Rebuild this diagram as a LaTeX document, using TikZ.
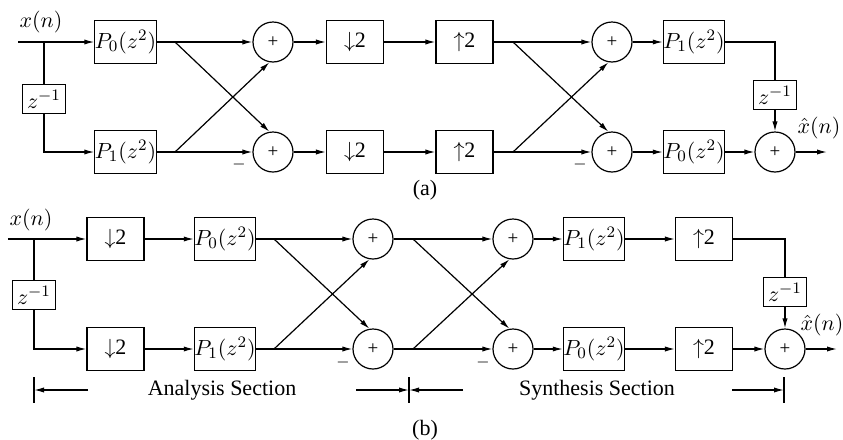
\documentclass[tikz,border=0pt]{standalone}
\usepackage{fontspec}
\setmainfont{Liberation Serif}
\usetikzlibrary{arrows.meta,calc}
\tikzset{
  >={Latex[length=5pt,width=2.6pt]},
  blk/.style={draw,line width=0.6pt,minimum width=28.5pt,minimum height=21.5pt,
              inner sep=0pt},
  dly/.style={draw,line width=0.6pt,minimum width=21.5pt,minimum height=14.5pt,
              inner sep=0pt},
  adder/.style={draw,circle,line width=0.6pt,minimum size=20pt,inner sep=0pt,
                font=\fontsize{9.5}{10}\selectfont},
  sig/.style={->,line width=0.6pt},
  wire/.style={-,line width=0.6pt},
  neg/.style={inner sep=0pt,font=\fontsize{8}{9}\selectfont},
  io/.style={inner sep=0pt},
}

\begin{document}
\begin{tikzpicture}[x=0.5pt,y=-0.5pt,
    every node/.append style={font=\fontsize{11}{13}\selectfont}]
  \useasboundingbox (0,0) rectangle (843,440);
  % (a) polyphase analysis then synthesis
  \coordinate (ina) at (18,42);
  \coordinate (ja) at (44,42);
  \coordinate (c1a) at (175,42);
  \coordinate (c2a) at (175,152);
  \coordinate (c3a) at (513,42);
  \coordinate (c4a) at (513,152);
  \coordinate (outa) at (827,152);
  \node[dly] (za) at (44,99) {$z^{-1}$};
  \node[blk] (p0a) at (125.5,42) {$P_0(z^2)$};
  \node[blk] (p1a) at (125.5,152) {$P_1(z^2)$};
  \node[adder] (s1a) at (273,42) {+};
  \node[adder] (s2a) at (273,152) {+};
  \node[blk] (d1a) at (355,42) {$\downarrow$2};
  \node[blk] (d2a) at (355,152) {$\downarrow$2};
  \node[blk] (u1a) at (464.5,42) {$\uparrow$2};
  \node[blk] (u2a) at (464.5,152) {$\uparrow$2};
  \node[adder] (s3a) at (612,42) {+};
  \node[adder] (s4a) at (612,152) {+};
  \node[blk] (q1a) at (694,42) {$P_1(z^2)$};
  \node[blk] (q0a) at (694,152) {$P_0(z^2)$};
  \node[dly] (zoa) at (775,95) {$z^{-1}$};
  \node[adder] (oa) at (775,152) {+};
  \node[io] (xa) at (41,22) {$x(n)$};
  \node[io] (ya) at (819,128) {$\hat{x}(n)$};
  \node[neg] (m1a) at (239,164) {$-$};
  \node[neg] (m2a) at (580,164) {$-$};
  \node (capa) at (425,190) {(a)};

  \draw[sig] (ina) -- (p0a);
  \draw[wire] (ja) -- (za);
  \draw[sig] (za) |- (p1a);
  \draw[sig] (p0a) -- (s1a);
  \draw[sig] (p1a) -- (s2a);
  \draw[sig] (c1a) -- (s2a.100);
  \draw[sig] (c2a) -- (s1a.260);
  \draw[sig] (s1a) -- (d1a);
  \draw[sig] (s2a) -- (d2a);
  \draw[sig] (d1a) -- (u1a);
  \draw[sig] (d2a) -- (u2a);
  \draw[sig] (u1a) -- (s3a);
  \draw[sig] (u2a) -- (s4a);
  \draw[sig] (c3a) -- (s4a.100);
  \draw[sig] (c4a) -- (s3a.260);
  \draw[sig] (s3a) -- (q1a);
  \draw[sig] (s4a) -- (q0a);
  \draw[wire] (q1a.east) -| (zoa);
  \draw[sig] (zoa) -- (oa);
  \draw[sig] (q0a) -- (oa);
  \draw[sig] (oa) -- (outa);

  % (b) decimators moved to the front
  \coordinate (inb) at (8,239);
  \coordinate (jb) at (34,239);
  \coordinate (c1b) at (274,239);
  \coordinate (c2b) at (274,349);
  \coordinate (c3b) at (413,239);
  \coordinate (c4b) at (413,349);
  \coordinate (outb) at (837,349);
  \node[dly] (zb) at (34,295) {$z^{-1}$};
  \node[blk] (d1b) at (115.5,239) {$\downarrow$2};
  \node[blk] (d2b) at (115.5,349) {$\downarrow$2};
  \node[blk] (p0b) at (225,239) {$P_0(z^2)$};
  \node[blk] (p1b) at (225,349) {$P_1(z^2)$};
  \node[adder] (s1b) at (373,239) {+};
  \node[adder] (s2b) at (373,349) {+};
  \node[adder] (s3b) at (513,239) {+};
  \node[adder] (s4b) at (513,349) {+};
  \node[blk] (q1b) at (594,239) {$P_1(z^2)$};
  \node[blk] (q0b) at (594,349) {$P_0(z^2)$};
  \node[blk] (u1b) at (704,239) {$\uparrow$2};
  \node[blk] (u2b) at (704,349) {$\uparrow$2};
  \node[dly] (zob) at (785,292) {$z^{-1}$};
  \node[adder] (ob) at (785,349) {+};
  \node[io] (xb) at (31,220) {$x(n)$};
  \node[io] (yb) at (822,325) {$\hat{x}(n)$};
  \node[neg] (m1b) at (343,362) {$-$};
  \node[neg] (m2b) at (483,362) {$-$};
  \node (capb) at (425,430) {(b)};

  \draw[sig] (inb) -- (d1b);
  \draw[wire] (jb) -- (zb);
  \draw[sig] (zb) |- (d2b);
  \draw[sig] (d1b) -- (p0b);
  \draw[sig] (d2b) -- (p1b);
  \draw[sig] (p0b) -- (s1b);
  \draw[sig] (p1b) -- (s2b);
  \draw[sig] (c1b) -- (s2b.100);
  \draw[sig] (c2b) -- (s1b.260);
  \draw[sig] (s1b) -- (s3b);
  \draw[sig] (s2b) -- (s4b);
  \draw[sig] (c3b) -- (s4b.100);
  \draw[sig] (c4b) -- (s3b.260);
  \draw[sig] (s3b) -- (q1b);
  \draw[sig] (s4b) -- (q0b);
  \draw[sig] (q1b) -- (u1b);
  \draw[sig] (q0b) -- (u2b);
  \draw[wire] (u1b.east) -| (zob);
  \draw[sig] (zob) -- (ob);
  \draw[sig] (u2b) -- (ob);
  \draw[sig] (ob) -- (outb);

  % section markers
  \coordinate (t1) at (34,390);
  \coordinate (t2) at (409,390);
  \coordinate (t3) at (784,390);
  \coordinate (e1) at (88,390);
  \coordinate (e2) at (356,390);
  \coordinate (e3) at (463,390);
  \coordinate (e4) at (732,390);
  \draw[wire] (t1) ++(0,-13) -- ++(0,26);
  \draw[wire] (t2) ++(0,-13) -- ++(0,26);
  \draw[wire] (t3) ++(0,-13) -- ++(0,26);
  \draw[sig] (e1) -- (t1);
  \draw[sig] (e2) -- (t2);
  \draw[sig] (e3) -- (t2);
  \draw[sig] (e4) -- (t3);
  \node (ana) at (222,390) {Analysis Section};
  \node (syn) at (597,390) {Synthesis Section};
\end{tikzpicture}
\end{document}
